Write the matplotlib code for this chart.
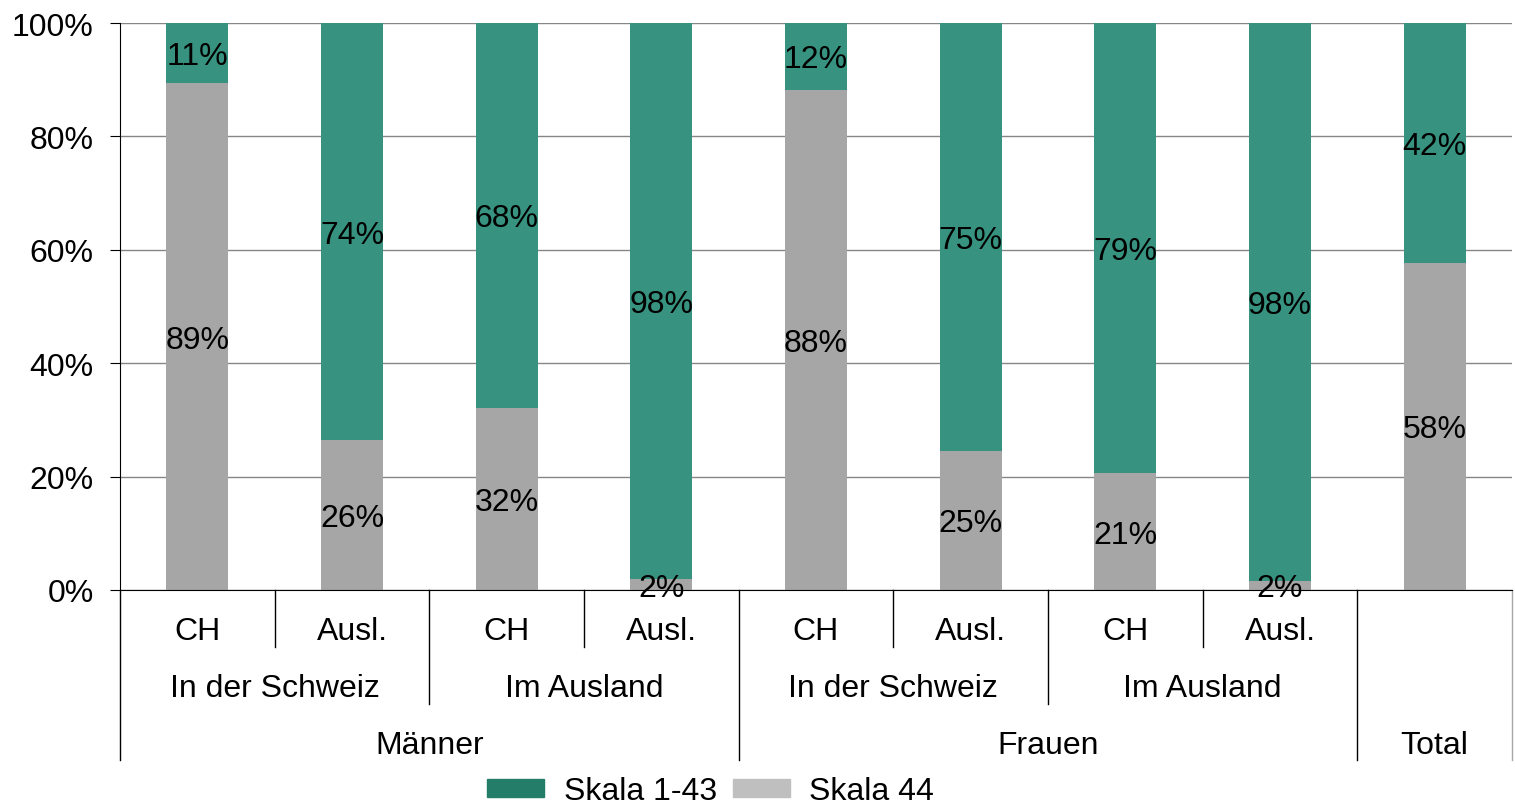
import matplotlib
matplotlib.use("Agg")
import matplotlib.pyplot as plt
from matplotlib.patches import Patch
from matplotlib.ticker import FuncFormatter
from matplotlib.transforms import offset_copy
import numpy as np

plt.rcParams['font.family'] = ['Liberation Sans', 'DejaVu Sans']

# data
level1 = ['CH', 'Ausl.', 'CH', 'Ausl.', 'CH', 'Ausl.', 'CH', 'Ausl.', '']
level2 = ['In der Schweiz', 'Im Ausland', 'In der Schweiz', 'Im Ausland']
level3 = ['Männer', 'Frauen', 'Total']
skala44 = [89.4, 26.4, 32.1, 1.9, 88.2, 24.6, 20.6, 1.6, 57.7]
skala1_43 = [100 - v for v in skala44]

teal = '#379380'
gray = '#A6A6A6'
teal_leg = '#237D68'
gray_leg = '#BFBFBF'
fs = 23

fig = plt.figure(figsize=(15.15, 8.12), dpi=100)
ax = fig.add_axes([120/1515, 1 - 591/812, 1392/1515, 567/812])

x = np.arange(len(skala44))
ax.bar(x, skala44, width=0.4, color=gray, zorder=2)
ax.bar(x, skala1_43, width=0.4, bottom=skala44, color=teal, zorder=2)

# data labels centered in segments (nudged down a few pixels like the original)
lab_tr = offset_copy(ax.transData, fig=fig, y=-3, units='dots')
for xi, g, t in zip(x, skala44, skala1_43):
    ax.text(xi, g / 2, '%.0f%%' % g, ha='center', va='center', fontsize=fs, zorder=3,
            transform=lab_tr)
    ax.text(xi, g + t / 2, '%.0f%%' % t, ha='center', va='center', fontsize=fs, zorder=3,
            transform=lab_tr)

ax.set_xlim(-0.5, len(x) - 0.5)
ax.set_ylim(0, 100)
ax.set_yticks(np.arange(0, 101, 20))
ax.yaxis.set_major_formatter(FuncFormatter(lambda v, p: '%d%%' % v))
ax.tick_params(axis='y', labelsize=fs, length=7, direction='out', pad=12)
ax.set_xticks([])
ax.yaxis.grid(True, color='#868686', linewidth=1)
ax.set_axisbelow(True)
for s in ['top', 'right']:
    ax.spines[s].set_visible(False)
ax.spines['left'].set_color('black')
ax.spines['bottom'].set_color('black')

# multi-level category axis
h = 567.0
y1, y2, y3 = -(632 - 591) / h, -(689 - 591) / h, -(746 - 591) / h
e1, e2, e3 = -(648 - 591) / h, -(705 - 591) / h, -(761 - 591) / h
tr = ax.get_xaxis_transform()
for xi, lab in zip(x, level1):
    if lab:
        ax.text(xi, y1, lab, ha='center', va='center', fontsize=fs, transform=tr)
for i, lab in enumerate(level2):
    ax.text(2 * i + 0.5, y2, lab, ha='center', va='center', fontsize=fs, transform=tr)
ax.text(1.5, y3, level3[0], ha='center', va='center', fontsize=fs, transform=tr)
ax.text(5.5, y3, level3[1], ha='center', va='center', fontsize=fs, transform=tr)
ax.text(8, y3, level3[2], ha='center', va='center', fontsize=fs, transform=tr)

for xs in [0.5, 2.5, 4.5, 6.5]:
    ax.plot([xs, xs], [0, e1], color='black', lw=1, transform=tr, clip_on=False)
for xs in [1.5, 5.5]:
    ax.plot([xs, xs], [0, e2], color='black', lw=1, transform=tr, clip_on=False)
for xs in [-0.5, 3.5, 7.5]:
    ax.plot([xs, xs], [0, e3], color='black', lw=1, transform=tr, clip_on=False)
ax.plot([8.5, 8.5], [0, e3], color='#A6A6A6', lw=1, transform=tr, clip_on=False)

handles = [Patch(color=teal_leg, label='Skala 1-43'), Patch(color=gray_leg, label='Skala 44')]
fig.legend(handles=handles, loc='lower center', bbox_to_anchor=(0.469, -0.016),
           ncol=2, frameon=False, fontsize=fs, handlelength=1.8, handleheight=0.5,
           handletextpad=0.6, columnspacing=0.5, borderpad=0.05)

fig.savefig('out.png', dpi=100)
